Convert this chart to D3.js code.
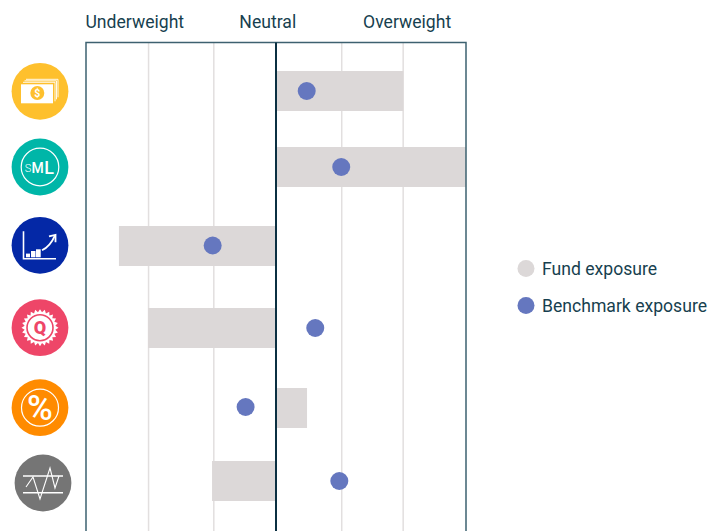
<!DOCTYPE html>
<html>
<head>
<meta charset="utf-8">
<script src="https://cdn.jsdelivr.net/npm/d3@7"></script>
<style>
  html, body { margin: 0; padding: 0; background: #fff; }
  svg { display: block; }
  text { font-family: Roboto, sans-serif; }
</style>
</head>
<body>
<div id="chart"></div>
<script>
const categories = ["Value", "Size", "Momentum", "Quality", "Yield", "Low volatility"];
const fundExposure = [2.01, 3, -2.48, -2.02, 0.49, -1.01];
const benchmarkExposure = [0.485, 1.03, -1, 0.62, -0.48, 1];
const tickValues = [-2.02, -0.99, 1.03, 2];
const headerLabels = ["Underweight", "Neutral", "Overweight"];
const headerValues = [-2.23, -0.13, 2.07];
const legendLabels = ["Fund exposure", "Benchmark exposure"];

const width = 722, height = 531;
const textColor = "#173f4f";
const fundColor = "#dcd8d8";
const benchColor = "#6577bf";

const svg = d3.select("#chart").append("svg")
    .attr("width", width)
    .attr("height", height);

const x = d3.scaleLinear().domain([-3, 3]).range([86, 466]);

// rows in the original are not evenly spaced
const rowY = d3.scaleOrdinal().domain(categories).range([91, 167, 246, 328, 408, 481]);
const dotY = d3.scaleOrdinal().domain(categories).range([91, 167, 245.5, 328, 407, 481]);
const iconY = d3.scaleOrdinal().domain(categories).range([91.3, 167, 245.3, 327.7, 407.7, 483]);
const barHeight = 40;
const plotTop = 42.5;

// grid
svg.append("g")
    .attr("transform", "translate(0," + height + ")")
    .call(d3.axisBottom(x).tickValues(tickValues).tickSize(plotTop - height).tickFormat(""))
    .call(g => g.select(".domain").remove())
    .selectAll("line")
    .attr("stroke", "#e2dfdf")
    .attr("stroke-width", 1.5);

// fund bars
svg.append("g").selectAll("rect")
    .data(categories)
    .join("rect")
    .attr("x", (d, i) => Math.min(x(0), x(fundExposure[i])))
    .attr("y", d => rowY(d) - barHeight / 2)
    .attr("width", (d, i) => Math.abs(x(fundExposure[i]) - x(0)))
    .attr("height", barHeight)
    .attr("fill", fundColor);

// frame
svg.append("path")
    .attr("d", "M" + x(-3) + "," + height + "V" + plotTop + "H" + x(3) + "V" + height)
    .attr("fill", "none")
    .attr("stroke", "#3d6170")
    .attr("stroke-width", 1.5);

// neutral line
svg.append("line")
    .attr("x1", x(0)).attr("x2", x(0))
    .attr("y1", plotTop).attr("y2", height)
    .attr("stroke", "#0b3042")
    .attr("stroke-width", 2);

// benchmark dots
svg.append("g").selectAll("circle")
    .data(categories)
    .join("circle")
    .attr("cx", (d, i) => x(benchmarkExposure[i]))
    .attr("cy", d => dotY(d))
    .attr("r", 9)
    .attr("fill", benchColor);

// header
svg.append("g").selectAll("text")
    .data(headerLabels)
    .join("text")
    .attr("x", (d, i) => x(headerValues[i]))
    .attr("y", 28)
    .attr("text-anchor", "middle")
    .attr("font-size", 17.6)
    .attr("fill", textColor)
    .text(d => d);

// legend
const legend = svg.append("g").selectAll("g")
    .data(legendLabels)
    .join("g")
    .attr("transform", (d, i) => "translate(526," + (268.5 + i * 37) + ")");
legend.append("circle")
    .attr("r", 8.5)
    .attr("fill", (d, i) => i == 0 ? fundColor : benchColor);
legend.append("text")
    .attr("x", 16)
    .attr("y", 6)
    .attr("font-size", 17.6)
    .attr("fill", textColor)
    .text(d => d);

// icons
const iconColors = ["#fec02d", "#00b6a8", "#0428a6", "#ee4668", "#ff8b00", "#757575"];
const iconX = [40, 40, 40, 40, 40, 43];

const icons = svg.append("g").selectAll("g")
    .data(categories)
    .join("g")
    .attr("transform", (d, i) => "translate(" + iconX[i] + "," + iconY(d) + ")");

icons.append("circle")
    .attr("r", 28.4)
    .attr("fill", (d, i) => iconColors[i]);

function line(g, d, w) {
    return g.append("path").attr("d", d).attr("fill", "none")
        .attr("stroke", "#fff").attr("stroke-width", w || 1.5);
}
function label(g, t, size, fill, weight, x0, y0) {
    return g.append("text").attr("x", x0 || 0).attr("y", y0 || 0)
        .attr("text-anchor", "middle")
        .attr("font-size", size).attr("font-weight", weight || 400)
        .attr("fill", fill).text(t);
}

// money
const money = icons.filter((d, i) => i == 0);
line(money, "M-14,-12H18V6", 0.9);
line(money, "M-15.5,-10.5H16.5V8", 0.9);
line(money, "M-17,-9H15V10", 0.9);
money.append("rect").attr("x", -19).attr("y", -7).attr("width", 32).attr("height", 19).attr("fill", "#fff");
money.append("circle").attr("cx", -2.7).attr("cy", 1.7).attr("r", 7).attr("fill", "#fec02d");
label(money, "$", 10.5, "#fff", 700, -2.7, 5.5);

// size
const size = icons.filter((d, i) => i == 1);
size.append("circle").attr("r", 18.8).attr("fill", "none").attr("stroke", "#fff").attr("stroke-width", 1.2);
label(size, "S", 11, "#fff", 300, -12, 5);
label(size, "M", 14, "#fff", 500, -2.5, 5.5);
label(size, "L", 18, "#fff", 500, 9, 6.5);

// momentum
const mom = icons.filter((d, i) => i == 2);
line(mom, "M-16.5,-14V13.5H16", 1.6);
mom.selectAll("rect").data([[-14, 8.3, 4, 3.7], [-9, 5.7, 4.5, 6.3], [-4, 4, 4.7, 8]]).join("rect")
    .attr("x", d => d[0]).attr("y", d => d[1]).attr("width", d => d[2]).attr("height", d => d[3])
    .attr("fill", "#fff");
line(mom, "M2,5C8,2 12,-3 15,-10", 1.8);
line(mom, "M9,-9L15.5,-10.5L15.5,-3", 1.8);

// quality
const qual = icons.filter((d, i) => i == 3);
const gearPoints = d3.range(48).map(i => [i * Math.PI / 24, i % 2 ? 15.5 : 18.5]);
qual.append("path")
    .attr("d", d3.lineRadial().curve(d3.curveLinearClosed)(gearPoints))
    .attr("fill", "#fff");
qual.append("circle").attr("r", 13).attr("fill", "none").attr("stroke", "#ee4668").attr("stroke-width", 1.6);
label(qual, "Q", 18, "#ee4668", 900, 0, 6.5);

// yield
const yieldIcon = icons.filter((d, i) => i == 4);
yieldIcon.append("circle").attr("r", 18.5).attr("fill", "none").attr("stroke", "#fff").attr("stroke-width", 1.2);
label(yieldIcon, "%", 35, "#fff", 500, 0, 12);

// low volatility
const vol = icons.filter((d, i) => i == 5);
line(vol, "M-20,-7H20", 1.4);
line(vol, "M-20,9.7H20", 1.4);
line(vol, "M-17,4L-10,-6L-3,16L7,-15L12,5L16,-7", 1.1);
</script>
</body>
</html>
